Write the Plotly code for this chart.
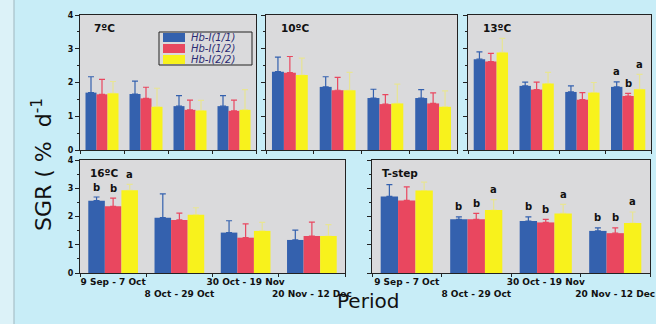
import plotly.graph_objects as go

periods = ["9 Sep - 7 Oct", "8 Oct - 29 Oct", "30 Oct - 19 Nov", "20 Nov - 12 Dec"]
genotypes = ["Hb-I(1/1)", "Hb-I(1/2)", "Hb-I(2/2)"]
panel_names = ["7ºC", "10ºC", "13ºC", "16ºC", "T-step"]

# SGR means, one list per genotype (1/1, 1/2, 2/2) over the four periods
sgr_7 = [[1.70, 1.66, 1.30, 1.30], [1.65, 1.53, 1.19, 1.16], [1.68, 1.28, 1.17, 1.19]]
err_7 = [[0.47, 0.38, 0.31, 0.31], [0.44, 0.33, 0.29, 0.32], [0.35, 0.55, 0.30, 0.60]]
sgr_10 = [[2.32, 1.87, 1.54, 1.54], [2.29, 1.77, 1.36, 1.38], [2.22, 1.77, 1.38, 1.28]]
err_10 = [[0.43, 0.30, 0.26, 0.25], [0.48, 0.38, 0.28, 0.31], [0.50, 0.53, 0.57, 0.47]]
sgr_13 = [[2.69, 1.90, 1.72, 1.87], [2.62, 1.79, 1.49, 1.60], [2.89, 1.97, 1.70, 1.80]]
err_13 = [[0.22, 0.11, 0.18, 0.15], [0.24, 0.22, 0.21, 0.08], [0.42, 0.33, 0.30, 0.44]]
sgr_16 = [[2.56, 1.96, 1.43, 1.17], [2.36, 1.88, 1.25, 1.31], [2.93, 2.06, 1.49, 1.31]]
err_16 = [[0.13, 0.84, 0.42, 0.35], [0.29, 0.24, 0.49, 0.49], [0.21, 0.25, 0.30, 0.40]]
sgr_ts = [[2.71, 1.90, 1.84, 1.49], [2.57, 1.90, 1.79, 1.41], [2.92, 2.23, 2.11, 1.77]]
err_ts = [[0.42, 0.09, 0.15, 0.11], [0.48, 0.21, 0.11, 0.19], [0.30, 0.37, 0.32, 0.39]]

# significance letters
let_7 = [["", "", "", ""], ["", "", "", ""], ["", "", "", ""]]
let_10 = [["", "", "", ""], ["", "", "", ""], ["", "", "", ""]]
let_13 = [["", "", "", "a"], ["", "", "", "b"], ["", "", "", "a"]]
let_16 = [["b", "", "", ""], ["b", "", "", ""], ["a", "", "", ""]]
let_ts = [["", "b", "b", "b"], ["", "b", "b", "b"], ["", "a", "a", "a"]]

means = [sgr_7, sgr_10, sgr_13, sgr_16, sgr_ts]
errs = [err_7, err_10, err_13, err_16, err_ts]
letters = [let_7, let_10, let_13, let_16, let_ts]

colors = ["#3461ae", "#e9475f", "#f8f21c"]
err_colors = ["#3461ae", "#e9475f", "rgba(248,242,60,0.45)"]
W, H = 656, 324
# panel boxes in pixels: (left, right, top, bottom)
boxes = [(80, 256, 15, 150), (266, 457, 15, 150), (468, 651, 15, 150),
         (80, 345, 160, 273), (372, 650, 160, 273)]

fig = go.Figure()
wide = "DejaVu Sans, Verdana, sans-serif"
layout = {}
bargap = 0.25
for p in range(5):
    ax = "" if p == 0 else str(p + 1)
    for g in range(3):
        fig.add_trace(go.Bar(
            x=periods, y=means[p][g], name=genotypes[g],
            marker=dict(color=colors[g], line=dict(width=0)),
            error_y=dict(type="data", symmetric=False, array=errs[p][g],
                         arrayminus=[0] * 4, color=err_colors[g], thickness=1.2, width=3),
            xaxis="x" + ax, yaxis="y" + ax, showlegend=False))
        for i in range(4):
            if letters[p][g][i]:
                fig.add_annotation(
                    x=i + (g - 1) * (1 - bargap) / 3, y=means[p][g][i] + errs[p][g][i],
                    xref="x" + ax, yref="y" + ax, text=letters[p][g][i], showarrow=False,
                    yanchor="middle", yshift=10,
                    font=dict(family=wide, size=10, color="#111", weight="bold"))
    l, r, t, b = boxes[p]
    bottom_row = p >= 3
    ticktext = [periods[i] if i % 2 == 0 else "<br>" + periods[i] for i in range(4)]
    layout["xaxis" + ax] = dict(
        domain=[l / W, r / W], anchor="y" + ax, type="category", automargin=False,
        tickson="boundaries", ticks="outside", ticklen=3, tickcolor="#222",
        showline=True, linecolor="#222", linewidth=1, mirror=True,
        showgrid=False, zeroline=False,
        showticklabels=bottom_row, tickmode="array", tickvals=periods, ticktext=ticktext,
        tickfont=dict(family=wide, size=9, color="#111", weight="bold"),
        tickangle=0)
    layout["yaxis" + ax] = dict(
        domain=[1 - b / H, 1 - t / H], anchor="x" + ax, range=[0, 4], automargin=False,
        dtick=1, ticks="outside", ticklen=4, tickcolor="#222",
        minor=dict(dtick=0.5, ticks="outside", ticklen=2, tickcolor="#222"),
        showline=True, linecolor="#222", linewidth=1, mirror=True,
        showgrid=False, zeroline=False,
        showticklabels=(p in (0, 3)),
        tickfont=dict(family=wide, size=8, color="#111", weight="bold"))
    fig.add_annotation(xref="x" + ax + " domain", yref="y" + ax + " domain",
                       x=0.07 if p < 3 else 0.03, y=0.96, xanchor="left", yanchor="top",
                       text=panel_names[p], showarrow=False,
                       font=dict(family=wide, size=10.5, color="#111", weight="bold"))

# legend box inside the 7ºC panel
lx0, ly0, lx1, ly1 = 159, 32, 252, 65
fig.add_shape(type="rect", xref="paper", yref="paper", x0=lx0 / W, x1=lx1 / W,
              y0=1 - ly1 / H, y1=1 - ly0 / H, line=dict(color="#222", width=1),
              fillcolor="#dadadc")
for g in range(3):
    yc = ly0 + 5.5 + g * 11
    fig.add_shape(type="rect", xref="paper", yref="paper",
                  x0=(lx0 + 4) / W, x1=(lx0 + 26) / W,
                  y0=1 - (yc + 4.5) / H, y1=1 - (yc - 4.5) / H,
                  line=dict(width=0), fillcolor=colors[g])
    fig.add_annotation(xref="paper", yref="paper", x=(lx0 + 30) / W, y=1 - yc / H,
                       xanchor="left", yanchor="middle", showarrow=False,
                       text="<i>" + genotypes[g] + "</i>",
                       font=dict(family=wide, size=10, color="#2a2a72"))

fig.add_annotation(xref="paper", yref="paper", x=26 / W, y=1 - 165 / H,
                   text="SGR ( %  d<sup>-1</sup>", textangle=-90, showarrow=False,
                   font=dict(family=wide, size=22, color="#111"))
fig.add_annotation(xref="paper", yref="paper", x=368 / W, y=1 - 315 / H,
                   text="Period", showarrow=False,
                   font=dict(family=wide, size=20, color="#111"))

fig.add_shape(type="rect", xref="paper", yref="paper", x0=0, x1=14 / W, y0=0, y1=1,
              line=dict(width=0), fillcolor="#dcf2f8", layer="below")
fig.add_shape(type="line", xref="paper", yref="paper", x0=14 / W, x1=14 / W, y0=0, y1=1,
              line=dict(color="#9fb7bf", width=1))

fig.update_layout(
    **layout,
    width=W, height=H, margin=dict(l=0, r=0, t=0, b=0, autoexpand=False),
    paper_bgcolor="#c8edf7", plot_bgcolor="#dadadc",
    barmode="group", bargap=bargap, bargroupgap=0,
    showlegend=False,
)
fig.write_html("out.html", config={"displayModeBar": False},
               post_script="document.body.style.margin='0';document.body.style.overflow='hidden';")
